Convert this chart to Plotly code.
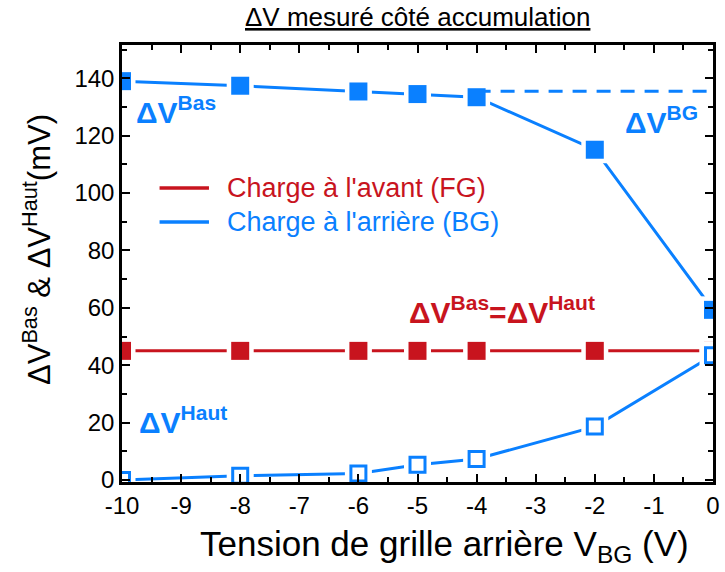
import plotly.graph_objects as go

# ---- data (mV versus back-gate voltage V_BG) ----
vbg = [-10, -8, -6, -5, -4, -2, 0]
dv_bas_bg = [139, 137.4, 135.4, 134.5, 133.4, 115.1, 59.3]     # charge at the back (BG), ΔV^Bas
dv_haut_bg = [0, 1.5, 2.3, 5.3, 7.3, 18.6, 43.5]             # charge at the back (BG), ΔV^Haut
dv_fg = [45, 45, 45, 45, 45, 45, 45]                         # charge at the front (FG), ΔV^Bas = ΔV^Haut
ref_x = [-4, 0]                                              # ΔV^BG reference level
ref_y = [135.5, 135.5]

x_tickvals = [-10, -9, -8, -7, -6, -5, -4, -3, -2, -1, 0]
x_ticktext = ["-10", "-9", "-8", "-7", "-6", "-5", "-4", "-3", "-2", "-1", "0"]
y_tickvals = [0, 20, 40, 60, 80, 100, 120, 140]
y_ticktext = ["0", "20", "40", "60", "80", "100", "120", "140"]

RED = "#C8141E"
BLUE = "#0A80FF"
FONT = "Liberation Sans, Arial, sans-serif"

W, H = 725, 572
ML, MR, MT, MB = 122, 5, 45, 90
PW, PH = W - ML - MR, H - MT - MB


def px(xp):
    return (xp - ML) / PW


def py(yp):
    return (H - MB - yp) / PH


fig = go.Figure()


def add_series(y, color, size, lw=0):
    # line, then a white square under each marker so the line stops short of it
    fig.add_trace(go.Scatter(x=vbg, y=y, mode="lines",
                             line=dict(color=color, width=3), showlegend=False, hoverinfo="skip"))
    fig.add_trace(go.Scatter(x=vbg, y=y, mode="markers",
                             marker=dict(symbol="square", size=size + lw + 9, color="white",
                                         line=dict(width=0)),
                             showlegend=False, hoverinfo="skip"))


def add_markers(y, color, symbol, size, lw=0):
    fig.add_trace(go.Scatter(x=vbg, y=y, mode="markers",
                             marker=dict(symbol=symbol, size=size, color=color,
                                         line=dict(width=lw, color=color)),
                             showlegend=False))


add_series(dv_fg, RED, 18)
add_markers(dv_fg, RED, "square", 18)
add_series(dv_bas_bg, BLUE, 18)
fig.add_trace(go.Scatter(x=ref_x, y=ref_y, mode="lines",
                         line=dict(color=BLUE, width=3, dash="14px,10px"),
                         showlegend=False, hoverinfo="skip"))
add_markers(dv_bas_bg, BLUE, "square", 18)
add_series(dv_haut_bg, BLUE, 15, 3)
add_markers(dv_haut_bg, BLUE, "square-open", 15, 3)

axis_common = dict(showline=True, linecolor="black", linewidth=2.5, mirror="ticks",
                   ticks="inside", tickcolor="black", tickwidth=2, ticklen=8,
                   showgrid=False, zeroline=False, layer="above traces",
                   tickfont=dict(family=FONT, size=24, color="black"))

fig.update_xaxes(range=[-10, 0], tickmode="array", tickvals=x_tickvals, ticktext=x_ticktext,
                 minor=dict(dtick=0.5, tick0=0, ticks="inside", ticklen=5, tickwidth=2,
                            tickcolor="black"),
                 **axis_common)
fig.update_yaxes(range=[-0.7, 151.6], tickmode="array", tickvals=y_tickvals, ticktext=y_ticktext,
                 minor=dict(dtick=10, tick0=0, ticks="inside", ticklen=5, tickwidth=2,
                            tickcolor="black"),
                 **axis_common)

annotations = [
    dict(x=px(421), y=py(17), text="<u>ΔV mesuré côté accumulation</u>",
         font=dict(family=FONT, size=26, color="black")),
    dict(x=px(448), y=py(546), text="Tension de grille arrière V<sub>BG</sub> (V)",
         font=dict(family=FONT, size=35, color="black")),
    dict(x=px(36), y=py(250), text="ΔV<sup>Bas</sup> & ΔV<sup>Haut</sup>(mV)", textangle=-90,
         font=dict(family=FONT, size=31, color="black")),
    dict(x=px(177), y=py(110), text="<b>ΔV<sup>Bas</sup></b>",
         font=dict(family=FONT, size=30, color=BLUE)),
    dict(x=px(668), y=py(120), text="<b>ΔV<sup>BG</sup></b>",
         font=dict(family=FONT, size=30, color=BLUE)),
    dict(x=px(507), y=py(310), text="<b>ΔV<sup>Bas</sup>=ΔV<sup>Haut</sup></b>",
         font=dict(family=FONT, size=30, color=RED)),
    dict(x=px(184), y=py(420), text="<b>ΔV<sup>Haut</sup></b>",
         font=dict(family=FONT, size=30, color=BLUE)),
    dict(x=px(226), y=py(188), text="Charge à l'avant (FG)", xanchor="left",
         font=dict(family=FONT, size=27, color=RED)),
    dict(x=px(226), y=py(222), text="Charge à l'arrière (BG)", xanchor="left",
         font=dict(family=FONT, size=27, color=BLUE)),
]
for a in annotations:
    a.setdefault("xanchor", "center")
    a.update(xref="paper", yref="paper", yanchor="middle", showarrow=False)

shapes = [
    dict(type="line", xref="paper", yref="paper", x0=px(160), x1=px(210), y0=py(188), y1=py(188),
         line=dict(color=RED, width=3.5)),
    dict(type="line", xref="paper", yref="paper", x0=px(160), x1=px(210), y0=py(222), y1=py(222),
         line=dict(color=BLUE, width=3.5)),
]

fig.update_layout(width=W, height=H, margin=dict(l=ML, r=MR, t=MT, b=MB),
                  plot_bgcolor="white", paper_bgcolor="white",
                  annotations=annotations, shapes=shapes, showlegend=False)

fig.write_html("out.html")
